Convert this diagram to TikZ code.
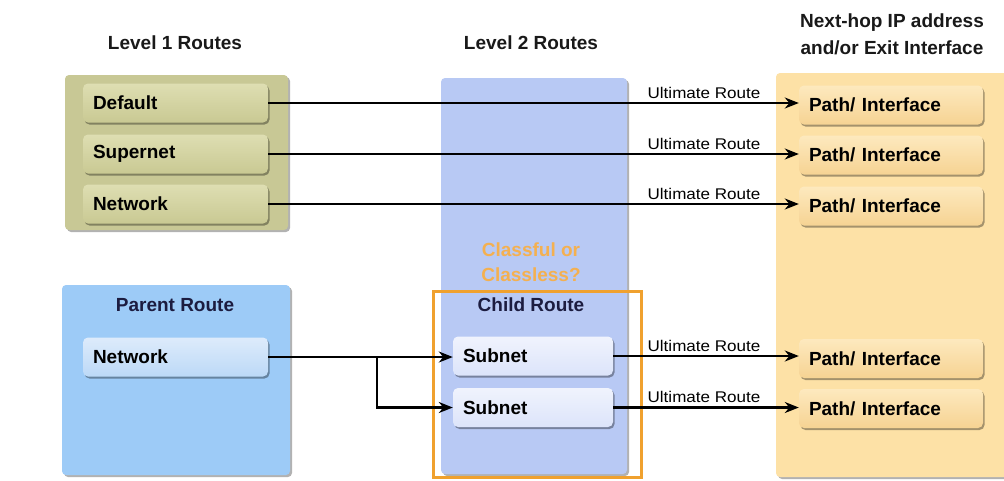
\documentclass[tikz,border=0pt]{standalone}
\usepackage{fontspec}
\setmainfont{Liberation Sans}
\newfontfamily\labelfont[FakeStretch=1.1]{Liberation Sans}
\usetikzlibrary{shadows,arrows.meta}

\definecolor{olivepanel}{HTML}{C8C895}
\definecolor{olivetop}{HTML}{DEDEB2}
\definecolor{olivebot}{HTML}{C9C993}
\definecolor{lvtwo}{HTML}{B8C9F4}
\definecolor{parentblue}{HTML}{9DCBF7}
\definecolor{pnettop}{HTML}{DDEBFB}
\definecolor{pnetbot}{HTML}{BCD9F7}
\definecolor{subtop}{HTML}{F0F3FD}
\definecolor{subbot}{HTML}{DCE4FA}
\definecolor{peach}{HTML}{FDE1A6}
\definecolor{peachtop}{HTML}{FDE9BE}
\definecolor{peachbot}{HTML}{F6D393}
\definecolor{orangeline}{HTML}{F0A12E}
\definecolor{orangetext}{HTML}{F4B050}
\definecolor{navy}{HTML}{1C1C40}

\tikzset{
  panel/.style={rounded corners=4pt, draw=none,
    drop shadow={shadow xshift=2pt, shadow yshift=-2pt, fill=black, opacity=0.3}},
  btn/.style={rounded corners=5pt, draw=none, minimum height=39pt,
    text width=#1, inner xsep=10pt, align=left,
    font=\bfseries\fontsize{19}{22}\selectfont,
    drop shadow={shadow xshift=1.5pt, shadow yshift=-2pt, fill=black, opacity=0.35}},
  lvonebtn/.style={btn=165pt, top color=olivetop, bottom color=olivebot},
  pnetbtn/.style={btn=165pt, top color=pnettop, bottom color=pnetbot},
  subbtn/.style={btn=140pt, top color=subtop, bottom color=subbot},
  pathbtn/.style={btn=164pt, top color=peachtop, bottom color=peachbot},
  title/.style={font=\bfseries\fontsize{19}{22}\selectfont, text=black!90},
  heading/.style={font=\bfseries\fontsize{19}{22}\selectfont, text=navy},
  ulabel/.style={font=\labelfont\fontsize{15.5}{17}\selectfont, inner sep=1pt},
  arr/.style={line width=2.8pt, -{Stealth[length=14pt,width=11pt]}},
}

\begin{document}
\begin{tikzpicture}[x=1pt,y=-1pt]
\useasboundingbox (0,0) rectangle (1004,480);
\fill[white] (0,0) rectangle (1004,480);

% column headings
\node[title] (t1) at (175,43) {Level 1 Routes};
\node[title] (t2) at (531,43) {Level 2 Routes};
\node[title, align=center] (t3) at (892,34) {Next-hop IP address\\[5pt]and/or Exit Interface};

% background panels
\fill[panel, olivepanel] (65,75) rectangle (288,230);
\fill[panel, lvtwo] (441,78) rectangle (627,474);
\fill[panel, peach] (776,73) rectangle (1010,477);
\fill[panel, parentblue] (62,285) rectangle (290,475);

% level 1 routes
\node[lvonebtn] (def) at (175.5,103) {Default};
\node[lvonebtn] (sup) at (175.5,154) {Supernet};
\node[lvonebtn] (net) at (175.5,204) {Network};

% parent route
\node[heading] (ph) at (175,305) {Parent Route};
\node[pnetbtn] (pnet) at (175.5,357) {Network};

% child routes
\node[heading, text=orangetext, align=center] (cq) at (531,262) {Classful or\\[3pt]Classless?};
\node[heading] (ch) at (531,305) {Child Route};
\node[subbtn] (s1) at (533,356) {Subnet};
\node[subbtn] (s2) at (533,407.5) {Subnet};
\draw[orangeline, line width=3pt] (433,291) rectangle (641,477);

% next hops
\node[pathbtn] (p1) at (891,105) {Path/ Interface};
\node[pathbtn] (p2) at (891,155) {Path/ Interface};
\node[pathbtn] (p3) at (891,206) {Path/ Interface};
\node[pathbtn] (p4) at (891,358.5) {Path/ Interface};
\node[pathbtn] (p5) at (891,408.5) {Path/ Interface};

% ultimate routes
\foreach \src/\dst in {def/p1, sup/p2, net/p3, s1/p4, s2/p5}{
  \draw[arr] (\src.east) -- (\src.east -| \dst.west)
    node[ulabel, pos=1, anchor=south east, xshift=-36pt, yshift=2pt] {Ultimate Route};
}

% parent to child
\coordinate (fork) at (377,357);
\draw[arr] (pnet.east) -- (pnet.east -| s1.west);
\draw[arr] (fork) |- (s2.west);
\end{tikzpicture}
\end{document}
